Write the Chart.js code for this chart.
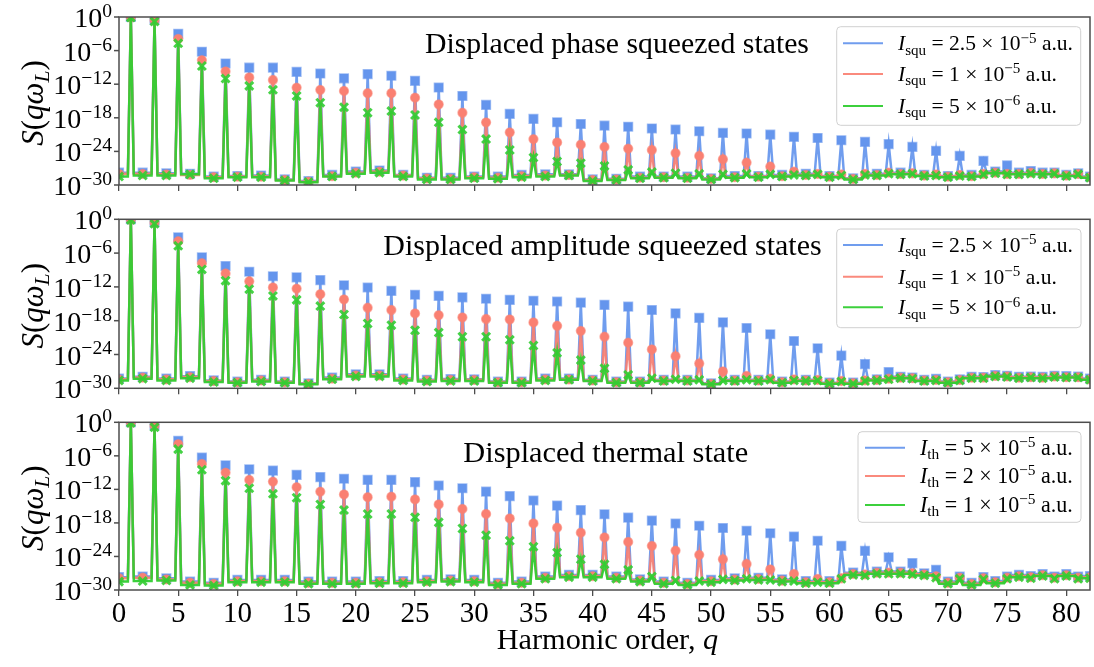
<!DOCTYPE html>
<html>
<head>
<meta charset="utf-8">
<script src="https://cdn.jsdelivr.net/npm/chart.js@4.4.1/dist/chart.umd.min.js"></script>
<style>
  body { margin: 0; background: #fff; }
  #wrap { position: relative; width: 1094px; height: 667px; background: #fff; }
  canvas { position: absolute; left: 0; }
</style>
</head>
<body>
<div id="wrap">
  <canvas id="c1" width="1094" height="200" style="top:0px"></canvas>
  <canvas id="c2" width="1094" height="200" style="top:200px"></canvas>
  <canvas id="c3" width="1094" height="267" style="top:400px"></canvas>
</div>
<script>
// log10 S(q w_L) for harmonic order q = 0, 1, 2, ... 82

// displaced phase squeezed states
const phaseBlue = [
  -27.8, 0, -27.8, -0.5, -27.9, -3.0, -28.0, -6.2, -28.5, -8.3,
  -28.4, -9.05, -28.3, -9.05, -29.0, -9.8, -29.3, -10.1, -28.2, -10.95,
  -27.6, -10.2, -27.4, -10.5, -28.2, -11.4, -28.7, -12.6, -28.7, -14.1,
  -28.5, -15.7, -28.5, -17.3, -28.2, -18.2, -28.1, -18.8, -28.1, -19.1,
  -29.0, -19.4, -28.9, -19.6, -28.5, -19.9, -28.5, -20.1, -28.5, -20.4,
  -28.8, -20.7, -28.4, -20.8, -28.4, -21.0, -28.2, -21.4, -28.0, -21.6,
  -28.4, -22.0, -28.8, -22.3, -28.0, -22.7, -27.8, -23.2, -28.2, -23.9,
  -28.4, -24.8, -28.2, -25.7, -27.6, -26.5, -27.8, -27.5, -27.8, -27.8,
  -28.2, -27.9, -28.5
];
const phaseRed = [
  -28.0, -0.05, -28.0, -0.6, -28.1, -3.9, -28.2, -7.7, -28.6, -9.7,
  -28.5, -10.8, -28.5, -11.25, -29.1, -12.6, -29.4, -13.0, -28.4, -13.2,
  -27.8, -13.6, -27.6, -13.6, -28.3, -14.4, -28.8, -15.6, -28.9, -17.1,
  -28.6, -18.8, -28.7, -20.6, -28.4, -21.8, -28.3, -22.4, -28.2, -22.8,
  -29.1, -23.2, -29.0, -23.5, -28.7, -23.75, -28.6, -24.3, -28.7, -24.8,
  -28.9, -25.4, -28.6, -26.0, -28.5, -26.7, -28.4, -27.6, -28.2, -28.0,
  -28.5, -28.1, -28.9, -28.0, -28.2, -27.8, -28.0, -27.9, -28.3, -28.1,
  -28.5, -28.2, -28.4, -28.0, -27.8, -28.0, -28.0, -27.8, -28.0, -27.9,
  -28.3, -28.0, -28.6
];
const phaseGreen = [
  -28.5, -0.1, -28.3, -0.8, -28.3, -4.7, -28.1, -8.75, -28.8, -11.0,
  -28.6, -12.3, -28.6, -13.0, -29.2, -14.1, -29.5, -15.3, -28.5, -16.1,
  -28.0, -17.1, -27.8, -16.8, -28.5, -17.5, -29.0, -18.8, -29.0, -20.1,
  -28.8, -21.8, -28.9, -23.75, -28.6, -25.1, -28.5, -25.8, -28.3, -26.1,
  -29.3, -26.6, -29.1, -27.3, -28.8, -27.7, -28.7, -27.9, -28.8, -28.0,
  -29.0, -28.1, -28.7, -28.0, -28.6, -28.1, -28.5, -28.2, -28.3, -28.1,
  -28.6, -28.3, -29.0, -28.2, -28.3, -28.0, -28.1, -28.0, -28.4, -28.3,
  -28.6, -28.4, -28.5, -28.1, -27.9, -28.1, -28.1, -28.0, -28.1, -28.0,
  -28.4, -28.1, -28.7
];

// displaced amplitude squeezed states
const ampBlue = [
  -28.25, 0, -27.95, -0.5, -28.25, -3.2, -27.85, -6.75, -28.6, -8.3,
  -28.8, -9.3, -28.5, -10.1, -28.8, -10.3, -29.1, -10.8, -28.1, -11.7,
  -27.5, -12.1, -27.5, -12.7, -28.25, -13.4, -28.5, -13.6, -28.35, -13.85,
  -28.4, -14.1, -28.8, -14.3, -28.8, -14.45, -28.25, -14.6, -28.25, -14.8,
  -28.5, -15.2, -28.8, -15.5, -28.8, -16.1, -28.5, -16.7, -28.5, -17.5,
  -29.1, -18.3, -28.5, -19.3, -28.5, -20.4, -28.8, -21.6, -28.5, -22.9,
  -29.0, -24.2, -29.0, -25.7, -28.4, -27.1, -27.95, -28.1, -28.5, -28.3,
  -28.8, -28.4, -27.95, -28.0, -27.65, -27.8, -27.95, -27.9, -27.95, -27.8,
  -27.85, -27.9, -28.25
];
const ampRed = [
  -28.4, -0.05, -28.1, -0.6, -28.4, -3.9, -28.0, -7.8, -28.7, -9.6,
  -28.9, -11.0, -28.6, -12.1, -28.9, -12.3, -29.2, -13.3, -28.3, -14.2,
  -27.7, -15.7, -27.7, -16.1, -28.4, -16.7, -28.6, -17.0, -28.5, -17.4,
  -28.5, -17.7, -28.9, -17.75, -28.9, -18.3, -28.4, -18.9, -28.4, -19.8,
  -28.6, -20.85, -28.9, -21.9, -28.9, -23.1, -28.6, -24.3, -28.6, -25.6,
  -29.2, -27.0, -28.6, -27.8, -28.6, -28.3, -28.9, -28.4, -28.6, -28.5,
  -29.1, -28.7, -29.1, -28.6, -28.5, -28.3, -28.1, -28.2, -28.6, -28.5,
  -28.9, -28.5, -28.1, -28.1, -27.8, -27.9, -28.1, -28.0, -28.1, -27.9,
  -28.0, -28.0, -28.4
];
const ampGreen = [
  -28.6, -0.1, -28.3, -0.8, -28.6, -4.7, -28.2, -8.9, -28.9, -10.9,
  -29.0, -12.4, -28.8, -13.6, -29.0, -14.3, -29.3, -15.4, -28.4, -16.9,
  -27.9, -18.5, -27.9, -18.8, -28.6, -19.7, -28.8, -20.1, -28.7, -20.85,
  -28.7, -20.85, -29.0, -21.4, -29.0, -22.4, -28.6, -23.7, -28.5, -25.0,
  -28.7, -26.45, -29.0, -27.6, -29.0, -28.2, -28.7, -28.4, -28.7, -28.5,
  -29.3, -28.6, -28.7, -28.5, -28.7, -28.5, -29.0, -28.6, -28.7, -28.6,
  -29.2, -28.8, -29.2, -28.7, -28.6, -28.4, -28.2, -28.3, -28.7, -28.6,
  -29.0, -28.6, -28.2, -28.2, -27.9, -28.0, -28.2, -28.1, -28.2, -28.0,
  -28.1, -28.1, -28.5
];

// displaced thermal state
const thermBlue = [
  -27.7, 0, -27.6, -0.5, -27.9, -3.3, -28.5, -6.3, -28.7, -7.7,
  -28.2, -8.4, -28.2, -8.65, -28.2, -9.4, -28.5, -9.8, -28.5, -10.1,
  -28.5, -10.3, -28.4, -10.3, -28.4, -10.7, -28.2, -11.3, -28.1, -11.8,
  -28.2, -12.4, -28.7, -13.2, -28.5, -14.0, -27.6, -14.9, -27.3, -15.7,
  -27.3, -16.45, -27.6, -17.05, -28.1, -17.6, -28.5, -18.1, -28.7, -18.5,
  -28.2, -18.9, -27.9, -19.4, -27.8, -19.85, -28.1, -20.45, -28.4, -21.2,
  -28.4, -22.1, -26.9, -23.0, -26.7, -24.15, -26.7, -25.2, -27.0, -26.4,
  -28.5, -27.6, -28.7, -27.7, -28.4, -27.6, -27.3, -27.5, -27.15, -27.6,
  -27.15, -27.6, -27.5
];
const thermRed = [
  -27.9, -0.05, -27.8, -0.6, -28.1, -3.9, -28.7, -7.45, -28.9, -9.0,
  -28.4, -10.3, -28.4, -10.6, -28.4, -11.6, -28.7, -12.4, -28.7, -12.9,
  -28.7, -13.4, -28.6, -13.3, -28.6, -13.8, -28.4, -14.7, -28.3, -15.5,
  -28.4, -16.4, -28.9, -17.2, -28.7, -18.1, -27.8, -18.85, -27.5, -19.75,
  -27.5, -20.6, -27.8, -21.4, -28.3, -22.1, -28.7, -22.95, -28.9, -23.7,
  -28.4, -24.5, -28.1, -25.35, -28.0, -26.3, -28.3, -27.1, -28.6, -28.0,
  -28.6, -27.9, -27.1, -27.2, -26.9, -26.9, -26.9, -27.0, -27.2, -27.5,
  -28.7, -27.8, -28.9, -27.9, -28.6, -27.8, -27.5, -27.7, -27.35, -27.8,
  -27.35, -27.8, -27.7
];
const thermGreen = [
  -28.5, -0.1, -28.4, -0.9, -28.3, -4.8, -29.1, -8.5, -29.2, -10.45,
  -28.6, -11.8, -28.6, -12.8, -28.6, -13.5, -28.9, -14.7, -28.9, -15.7,
  -28.9, -16.4, -28.8, -16.4, -28.8, -17.0, -28.6, -17.9, -28.5, -19.0,
  -28.6, -20.2, -29.1, -21.2, -28.9, -22.25, -28.0, -23.3, -27.7, -24.5,
  -27.7, -25.4, -28.0, -26.4, -28.5, -27.6, -28.9, -28.3, -29.1, -28.4,
  -28.6, -28.1, -28.3, -28.0, -28.2, -28.2, -28.5, -28.4, -28.8, -28.6,
  -28.8, -28.0, -27.3, -27.4, -27.1, -27.1, -27.1, -27.2, -27.4, -27.8,
  -28.9, -28.0, -29.1, -28.1, -28.8, -28.0, -27.7, -27.9, -27.5, -28.0,
  -27.5, -28.0, -27.9
];

// y axis decades that carry a 10^n label
const yTickExps = [0, -6, -12, -18, -24, -30];

// legend entries: [subscript, prefactor, exponent]
const squLegend = [['squ', '2.5', '\u22125'], ['squ', '1', '\u22125'], ['squ', '5', '\u22126']];
const thLegend = [['th', '5', '\u22125'], ['th', '2', '\u22125'], ['th', '1', '\u22125']];

const SERIF = '"Liberation Serif", "DejaVu Serif", serif';

const seriesStyle = [
  { line: 'rgba(100,149,237,0.92)', fill: 'rgba(100,149,237,1)', edge: 'rgba(100,149,237,0.6)', shape: 'rect', r: 6.1, bw: 1.5, order: 3 },
  { line: 'rgba(250,128,114,0.92)', fill: 'rgba(250,128,114,1)', edge: 'rgba(250,128,114,0.6)', shape: 'circle', r: 4.4, bw: 1.5, order: 2 },
  { line: 'rgba(50,205,50,0.95)', fill: 'rgba(50,205,50,1)', edge: 'rgba(50,205,50,0.9)', shape: 'crossRot', r: 5.6, bw: 3, order: 1 }
];

// each odd harmonic is a narrow line: it rises from the floor level of its
// even neighbours only within a quarter order around q
function toPoints(exps) {
  const pts = [];
  exps.forEach((e, q) => {
    if (q % 2 === 1) {
      pts.push({ x: q - 0.25, y: Math.pow(10, exps[q - 1]) });
      pts.push({ x: q, y: Math.pow(10, e), mark: true });
      pts.push({ x: q + 0.25, y: Math.pow(10, exps[q + 1]) });
    } else {
      pts.push({ x: q, y: Math.pow(10, e), mark: true });
    }
  });
  return pts;
}

function setFont(ctx, size, italic) {
  ctx.font = (italic ? 'italic ' : '') + size.toFixed(2) + 'px ' + SERIF;
}
function pieceSize(p, size) {
  return (p.sub || p.sup) ? size * 0.7 : size;
}
function runWidth(ctx, run, size) {
  let w = 0;
  run.forEach(p => { setFont(ctx, pieceSize(p, size), p.it); w += ctx.measureText(p.t).width; });
  return w;
}
function drawRun(ctx, run, x, y, size) {
  ctx.textAlign = 'left';
  ctx.textBaseline = 'alphabetic';
  run.forEach(p => {
    setFont(ctx, pieceSize(p, size), p.it);
    const dy = p.sub ? size * 0.2 : (p.sup ? -size * 0.36 : 0);
    ctx.fillText(p.t, x, y + dy);
    x += ctx.measureText(p.t).width;
  });
}
function fitSize(ctx, run, width) {
  return 100 * width / runWidth(ctx, run, 100);
}
function legendRun(e) {
  return [{ t: 'I', it: true }, { t: e[0], sub: true }, { t: ' = ' + e[1] + ' \u00d7 10' }, { t: e[2], sup: true }, { t: ' a.u.' }];
}

const yLabel = [{ t: 'S', it: true }, { t: '(' }, { t: 'q\u03c9', it: true }, { t: 'L', it: true, sub: true }, { t: ')' }];
const xLabel = [{ t: 'Harmonic order, ' }, { t: 'q', it: true }];

function decorPlugin(p) {
  return {
    id: 'decor',
    afterDraw(chart) {
      const ctx = chart.ctx, a = chart.chartArea;
      const xs = chart.scales.x, ys = chart.scales.y;
      ctx.save();

      // frame
      ctx.strokeStyle = '#4d4d4d';
      ctx.lineWidth = 1.5;
      ctx.strokeRect(a.left, a.top, a.right - a.left, a.bottom - a.top);

      // y ticks with 10^n labels
      ctx.fillStyle = '#000';
      yTickExps.forEach(e => {
        const y = ys.getPixelForValue(Math.pow(10, e));
        ctx.beginPath();
        ctx.moveTo(a.left - 5, y);
        ctx.lineTo(a.left, y);
        ctx.stroke();
        const run = [{ t: '10' }, { t: e === 0 ? '0' : '\u2212' + (-e), sup: true }];
        const w = runWidth(ctx, run, 28);
        drawRun(ctx, run, a.left - 7 - w, y + 10, 28);
      });

      // x tick labels on the bottom panel
      if (p.xLabels) {
        setFont(ctx, 29, false);
        ctx.textAlign = 'center';
        ctx.textBaseline = 'alphabetic';
        xs.ticks.forEach(t => {
          ctx.fillText(String(t.value), xs.getPixelForValue(t.value), a.bottom + 31.7);
        });
        const xs2 = fitSize(ctx, xLabel, 221.6);
        const w = runWidth(ctx, xLabel, xs2);
        drawRun(ctx, xLabel, 607.5 - w / 2, p.xLabelY, xs2);
      }

      // y axis title
      ctx.save();
      ctx.translate(43, (a.top + a.bottom) / 2 + 2);
      ctx.rotate(-Math.PI / 2);
      const yw = runWidth(ctx, yLabel, 31);
      drawRun(ctx, yLabel, -yw / 2, 0, 31);
      ctx.restore();

      // panel title
      const titleRun = [{ t: p.title }];
      drawRun(ctx, titleRun, p.titleX, p.titleY, fitSize(ctx, titleRun, p.titleW));

      // legend
      const b = p.box, rr = 4;
      ctx.beginPath();
      ctx.moveTo(b.x + rr, b.y);
      ctx.lineTo(b.x + b.w - rr, b.y);
      ctx.quadraticCurveTo(b.x + b.w, b.y, b.x + b.w, b.y + rr);
      ctx.lineTo(b.x + b.w, b.y + b.h - rr);
      ctx.quadraticCurveTo(b.x + b.w, b.y + b.h, b.x + b.w - rr, b.y + b.h);
      ctx.lineTo(b.x + rr, b.y + b.h);
      ctx.quadraticCurveTo(b.x, b.y + b.h, b.x, b.y + b.h - rr);
      ctx.lineTo(b.x, b.y + rr);
      ctx.quadraticCurveTo(b.x, b.y, b.x + rr, b.y);
      ctx.closePath();
      ctx.fillStyle = 'rgba(255,255,255,0.8)';
      ctx.fill();
      ctx.strokeStyle = '#d0d0d0';
      ctx.lineWidth = 1;
      ctx.stroke();

      const runs = p.legend.map(legendRun);
      const size = fitSize(ctx, runs[0], p.textW);
      runs.forEach((run, i) => {
        const y = p.rows[i];
        ctx.strokeStyle = seriesStyle[i].line;
        ctx.lineWidth = 2;
        ctx.beginPath();
        ctx.moveTo(p.lineX, y);
        ctx.lineTo(p.lineX + 40, y);
        ctx.stroke();
        ctx.fillStyle = '#000';
        drawRun(ctx, run, p.textX, y + 7, size);
      });

      ctx.restore();
    }
  };
}

const panels = [
  {
    id: 'c1', padTop: 17, axisH: 15,
    series: [phaseBlue, phaseRed, phaseGreen], legend: squLegend,
    title: 'Displaced phase squeezed states', titleX: 425, titleW: 384, titleY: 52.7,
    box: { x: 836.7, y: 26.7, w: 244, h: 98.6 }, rows: [43.3, 74, 106],
    lineX: 843, textX: 898, textW: 175, xLabels: false
  },
  {
    id: 'c2', padTop: 19.3, axisH: 11.7,
    series: [ampBlue, ampRed, ampGreen], legend: squLegend,
    title: 'Displaced amplitude squeezed states', titleX: 383.3, titleW: 438.4, titleY: 55,
    box: { x: 836.7, y: 29, w: 244.3, h: 98.7 }, rows: [45, 76.7, 107.3],
    lineX: 843, textX: 898, textW: 175, xLabels: false
  },
  {
    id: 'c3', padTop: 22.3, axisH: 77,
    series: [thermBlue, thermRed, thermGreen], legend: thLegend,
    title: 'Displaced thermal state', titleX: 463.3, titleW: 285, titleY: 62.3,
    box: { x: 858, y: 31.7, w: 223, h: 90.6 }, rows: [47.7, 76, 105],
    lineX: 865, textX: 920, textW: 153, xLabels: true, xLabelY: 249.3
  }
];

panels.forEach(p => {
  new Chart(document.getElementById(p.id), {
    type: 'line',
    data: {
      datasets: p.series.map((s, i) => {
        const st = seriesStyle[i];
        return {
          data: toPoints(s),
          borderColor: st.line,
          borderWidth: 2.5,
          tension: 0,
          clip: 0,
          order: st.order,
          pointStyle: st.shape,
          pointRadius: c => (c.raw && c.raw.mark) ? st.r : 0,
          pointBackgroundColor: st.fill,
          pointBorderColor: st.edge,
          pointBorderWidth: st.bw
        };
      })
    },
    options: {
      responsive: false,
      animation: false,
      events: [],
      layout: { padding: { top: p.padTop, right: 4, left: 0, bottom: 0 }, autoPadding: false },
      plugins: { legend: { display: false }, tooltip: { enabled: false } },
      scales: {
        x: {
          type: 'linear', min: 0, max: 82,
          afterFit: s => { s.height = p.axisH; },
          ticks: { stepSize: 5, display: false, includeBounds: false },
          grid: { drawOnChartArea: false, drawTicks: true, tickLength: 6, color: '#4d4d4d', lineWidth: 1.3 },
          border: { display: false }
        },
        y: {
          type: 'logarithmic', min: 1e-30, max: 1,
          afterFit: s => { s.width = 119; },
          ticks: { display: false },
          grid: { display: false },
          border: { display: false }
        }
      }
    },
    plugins: [decorPlugin(p)]
  });
});
</script>
</body>
</html>
